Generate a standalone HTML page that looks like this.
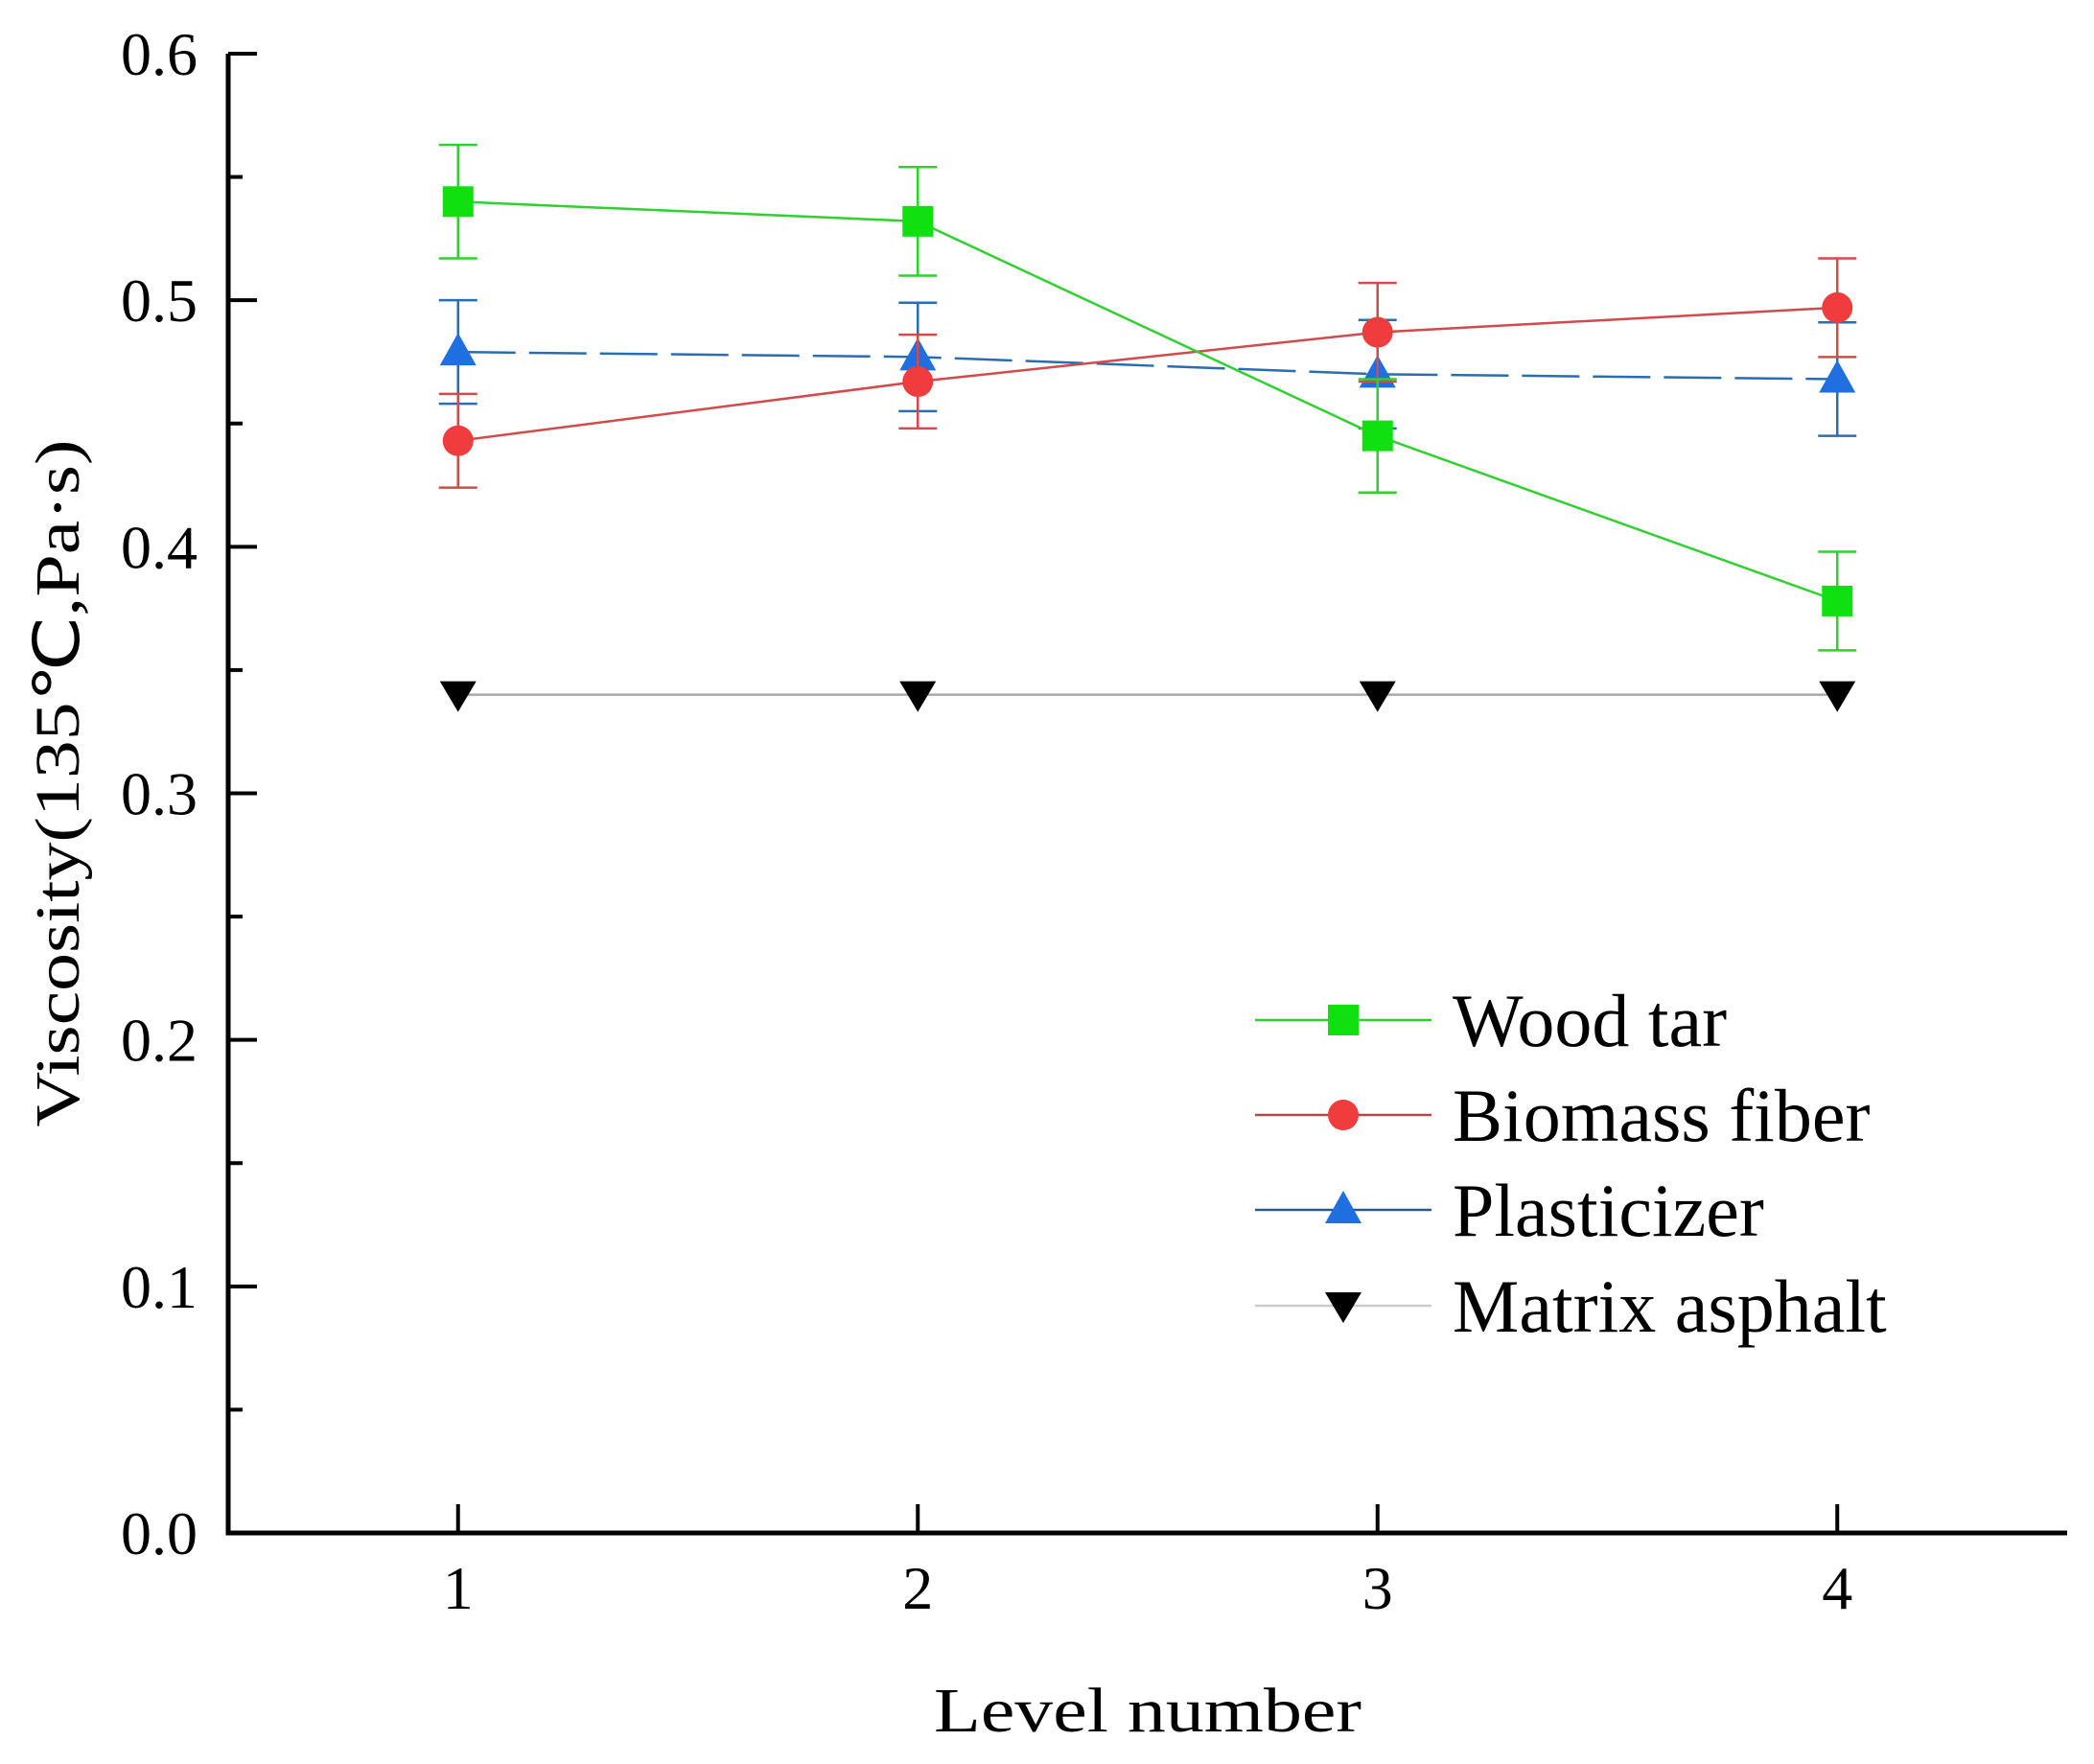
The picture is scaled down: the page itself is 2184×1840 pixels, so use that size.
<!DOCTYPE html>
<html><head><meta charset="utf-8"><style>body{margin:0;background:#fff}svg{display:block}text{font-family:"Liberation Serif",serif;fill:#000}</style></head>
<body>
<svg id="chart" width="2184" height="1840" viewBox="0 0 2184 1840" xmlns="http://www.w3.org/2000/svg">
<g id="axes"></g><g id="plot"></g><g id="legend"></g>
<text transform="translate(82,817) rotate(-90)" text-anchor="middle" font-size="66" textLength="717" lengthAdjust="spacingAndGlyphs">Viscosity(135℃,Pa·s)</text>
<text x="1197" y="1806" text-anchor="middle" font-size="66" textLength="446" lengthAdjust="spacingAndGlyphs">Level number</text>
</svg>
<script>
const levels = [1, 2, 3, 4];
const yTicks = [0.0, 0.1, 0.2, 0.3, 0.4, 0.5, 0.6];
const yTickLabels = ["0.0", "0.1", "0.2", "0.3", "0.4", "0.5", "0.6"];
const woodTar = [0.540, 0.532, 0.445, 0.378];
const woodTarErr = [0.023, 0.022, 0.023, 0.020];
const biomassFiber = [0.443, 0.467, 0.487, 0.497];
const biomassFiberErr = [0.019, 0.019, 0.020, 0.020];
const plasticizer = [0.479, 0.477, 0.470, 0.468];
const plasticizerErr = [0.021, 0.022, 0.022, 0.023];
const matrixAsphalt = [0.340, 0.340, 0.340, 0.340];
const seriesNames = ["Wood tar", "Biomass fiber", "Plasticizer", "Matrix asphalt"];

const NS = "http://www.w3.org/2000/svg";
const X0 = 238, X1 = 2156, Y0 = 1599, Y1 = 56;
function xs(v){ return X0 + (v - 0.5) / 4 * (X1 - X0); }
function ys(v){ return Y0 - v / 0.6 * (Y0 - Y1); }
function mk(tag, attrs, parent){ const e = document.createElementNS(NS, tag); for (const k in attrs) e.setAttribute(k, attrs[k]); parent.appendChild(e); return e; }

const axes = document.getElementById('axes');
let e = mk('path', {d:`M${X0},${Y1} V${Y0} H${X1}`, fill:'none', stroke:'#000', 'stroke-width':5}, axes);


yTicks.forEach((t, i) => {
  const y = ys(t);
  const tk = mk('line', {x1:X0, x2:X0+30, y1:y, y2:y, stroke:'#000', 'stroke-width':4}, axes);
  
  
  if (i < yTicks.length - 1) {
    const ym = ys(t + 0.05);
    const mt = mk('line', {x1:X0, x2:X0+15, y1:ym, y2:ym, stroke:'#000', 'stroke-width':4}, axes);
    
    
  }
  const lb = mk('text', {x:206, y:y+22, 'text-anchor':'end', 'font-size':64}, axes);
  lb.textContent = yTickLabels[i];
  
  
});
levels.forEach(l => {
  const x = xs(l);
  const tk = mk('line', {x1:x, x2:x, y1:Y0, y2:Y0-30, stroke:'#000', 'stroke-width':4}, axes);
  
  
  const lb = mk('text', {x:x, y:1678, 'text-anchor':'middle', 'font-size':64}, axes);
  lb.textContent = String(l);
  
  
});

function marker(shape, x, y, color, parent){
  let m;
  if (shape === 'square') m = mk('rect', {x:x-16, y:y-16, width:32, height:32, fill:color}, parent);
  else if (shape === 'circle') m = mk('circle', {cx:x, cy:y, r:16, fill:color}, parent);
  else if (shape === 'up') m = mk('path', {d:`M${x},${y-20} L${x+19},${y+14} L${x-19},${y+14} Z`, fill:color}, parent);
  else m = mk('path', {d:`M${x},${y+18} L${x+19},${y-14} L${x-19},${y-14} Z`, fill:color}, parent);
  return m;
}

const plot = document.getElementById('plot');
const series = [
  {vals: matrixAsphalt, err: null, color:'#000', line:'#aaa', shape:'down', dash:'', key:'matrix-asphalt'},
  {vals: plasticizer, err: plasticizerErr, color:'#1f6fe0', line:'#2a6db0', shape:'up', dash:'60 14', key:'plasticizer'},
  {vals: biomassFiber, err: biomassFiberErr, color:'#f03c3c', line:'#d24a4a', shape:'circle', dash:'', key:'biomass-fiber'},
  {vals: woodTar, err: woodTarErr, color:'#10e010', line:'#30d030', shape:'square', dash:'', key:'wood-tar'}
];
series.forEach(s => {
  const g = mk('g', {}, plot);
  
  
  const pts = s.vals.map((v, i) => `${xs(levels[i])},${ys(v)}`).join(' ');
  const pl = mk('polyline', {points:pts, fill:'none', stroke:s.line, 'stroke-width':2.5, 'stroke-dasharray':s.dash}, g);
  
  
  s.vals.forEach((v, i) => {
    const x = xs(levels[i]);
    if (s.err) {
      const hi = ys(v + s.err[i]), lo = ys(v - s.err[i]);
      const eb = mk('path', {d:`M${x},${hi} V${lo} M${x-20},${hi} H${x+20} M${x-20},${lo} H${x+20}`, fill:'none', stroke:s.line, 'stroke-width':2.5}, g);
      
      
    }
    const m = marker(s.shape, x, ys(v), s.color, g);
    
    
  });
});

const legend = document.getElementById('legend');
const legRows = [
  {name: seriesNames[0], color:'#10e010', line:'#30d030', shape:'square', y:1064},
  {name: seriesNames[1], color:'#f03c3c', line:'#b04848', shape:'circle', y:1163},
  {name: seriesNames[2], color:'#1f6fe0', line:'#2a5a8a', shape:'up', y:1262},
  {name: seriesNames[3], color:'#000', line:'#ccc', shape:'down', y:1362}
];
legRows.forEach(r => {
  const g = mk('g', {}, legend);
  
  
  mk('line', {x1:1309, x2:1493, y1:r.y, y2:r.y, stroke:r.line, 'stroke-width':2.5}, g);
  marker(r.shape, 1401, r.y, r.color, g);
  const t = mk('text', {x:1515, y:r.y+27, 'font-size':78}, g);
  t.textContent = r.name;
});
</script>
</body></html>
